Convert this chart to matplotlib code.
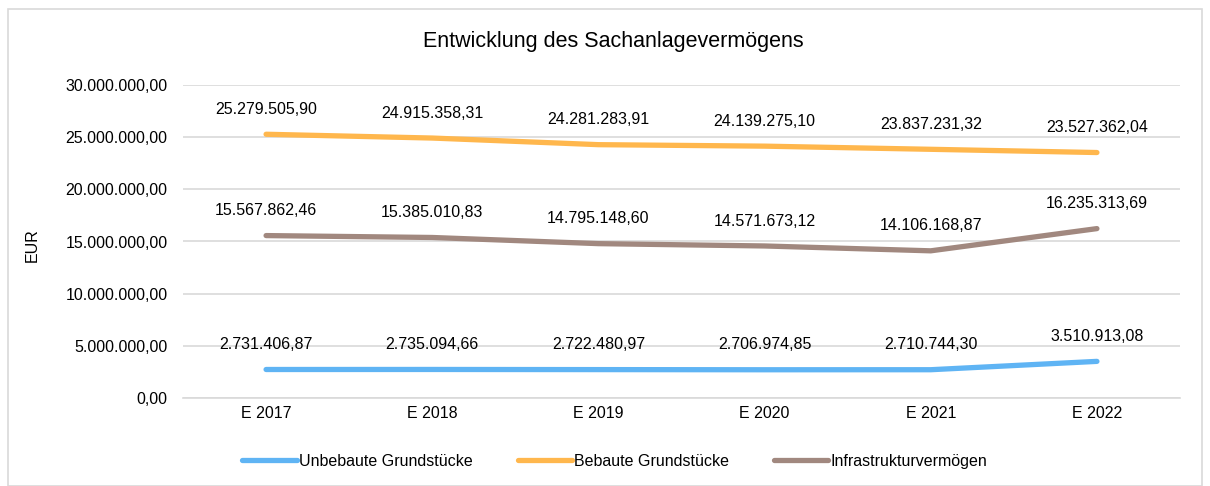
import matplotlib.pyplot as plt
from matplotlib.ticker import FuncFormatter
from matplotlib.patches import Rectangle

plt.rcParams['font.family'] = ['Liberation Sans', 'DejaVu Sans']

years = ['E 2017', 'E 2018', 'E 2019', 'E 2020', 'E 2021', 'E 2022']
unbebaut = [2731406.87, 2735094.66, 2722480.97, 2706974.85, 2710744.30, 3510913.08]
bebaut = [25279505.90, 24915358.31, 24281283.91, 24139275.10, 23837231.32, 23527362.04]
infra = [15567862.46, 15385010.83, 14795148.60, 14571673.12, 14106168.87, 16235313.69]

series = [
    ('Unbebaute Grundstücke', unbebaut, '#5fb4f4'),
    ('Bebaute Grundstücke', bebaut, '#ffb74d'),
    ('Infrastrukturvermögen', infra, '#a1887f'),
]

def de_fmt(v):
    s = '{:,.2f}'.format(v)
    return s.replace(',', 'X').replace('.', ',').replace('X', '.')

fig = plt.figure(figsize=(12.1, 4.86), dpi=100)
ax = fig.add_axes([183/1210, 1 - 398/486, (1180-183)/1210, (398-85)/486])

x = range(len(years))
for name, vals, col in series:
    ax.plot(x, vals, color=col, lw=3.8, solid_capstyle='round', label=name)
    for xi, v in zip(x, vals):
        ax.annotate(de_fmt(v), (xi, v), xytext=(0, 12.5), textcoords='offset points',
                    ha='center', va='bottom', fontsize=11.5, color='#000000')

ax.set_ylim(0, 30000000)
ax.set_xlim(-0.5, 5.5)
ax.set_yticks(range(0, 30000001, 5000000))
ax.yaxis.set_major_formatter(FuncFormatter(lambda v, p: de_fmt(v)))
ax.set_xticks(list(x))
ax.set_xticklabels(years)
ax.tick_params(axis='y', length=0, labelsize=11.5, pad=11)
ax.tick_params(axis='x', length=0, labelsize=11.5, pad=6)
ax.grid(axis='y', color='#d9d9d9', lw=1.2)
ax.set_axisbelow(True)
for s in ['top', 'right', 'left']:
    ax.spines[s].set_visible(False)
ax.spines['bottom'].set_color('#d9d9d9')
ax.spines['bottom'].set_linewidth(1.2)

fig.text(32/1210, 1 - 245/486, 'EUR', rotation=90, ha='center', va='center', fontsize=11.5)
fig.text(613/1210, 1 - 42/486, 'Entwicklung des Sachanlagevermögens', ha='center', va='center', fontsize=15.5)

fig.legend(loc='center', bbox_to_anchor=(615/1210, 1 - 461/486), ncol=3, frameon=False,
           fontsize=11.5, handlelength=3.4, handletextpad=0.15, columnspacing=2.8)

fig.patches.append(Rectangle((8/1210, 0), 1 - 16/1210, 1 - 8/486 - 0.002, transform=fig.transFigure,
                             fill=False, edgecolor='#d9d9d9', lw=1.2))

fig.savefig('out.png', dpi=100)
